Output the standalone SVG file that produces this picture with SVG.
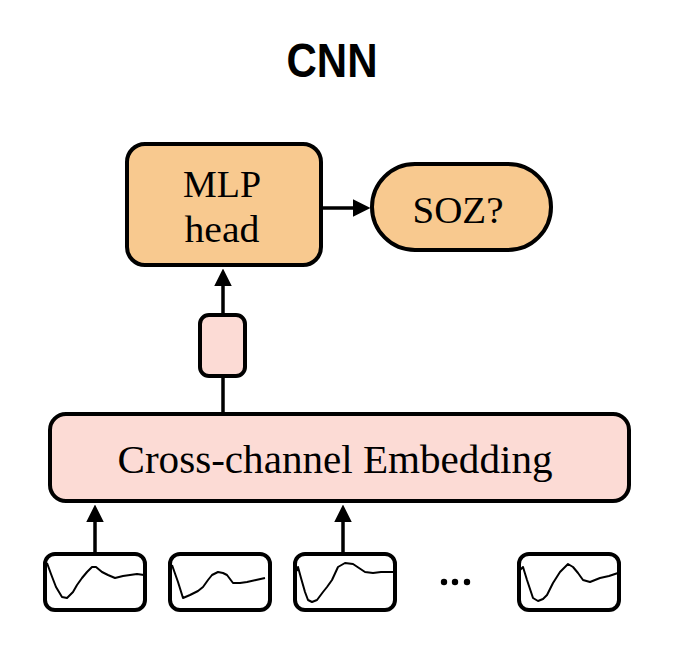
<svg xmlns="http://www.w3.org/2000/svg" width="682" height="662" viewBox="0 0 682 662">
<style>
.box{stroke:#000;stroke-width:4}
.orange{fill:#F8C98F}
.pink{fill:#FCDBD5}
.sig{fill:#fff;stroke:#000;stroke-width:4}
.wave{fill:none;stroke:#000;stroke-width:2;stroke-linejoin:round}
.line{stroke:#000;stroke-width:3.5;fill:none}
</style>
<defs>
<marker id="ah" markerWidth="5" markerHeight="5" refX="0" refY="2.5" orient="auto" markerUnits="strokeWidth">
<path d="M0,0 L5,2.5 L0,5 Z" fill="#000"/>
</marker>
</defs>
<rect width="682" height="662" fill="#fff"/>
<text x="332" y="77" font-family="'Liberation Sans',Arial,sans-serif" font-weight="bold" font-size="49" text-anchor="middle" textLength="91" lengthAdjust="spacingAndGlyphs">CNN</text>

<g id="connectors">
<line class="line" x1="323" y1="208" x2="353" y2="208" marker-end="url(#ah)"/>
<line class="line" x1="223" y1="313" x2="223" y2="286" marker-end="url(#ah)"/>
<line class="line" x1="223" y1="412" x2="223" y2="378"/>
<line class="line" x1="95" y1="552" x2="95" y2="522" marker-end="url(#ah)"/>
<line class="line" x1="343" y1="552" x2="343" y2="522" marker-end="url(#ah)"/>
</g>

<g id="mlp-head">
<rect class="box orange" x="127" y="144" width="194" height="121" rx="18"/>
<text x="222" y="197" font-family="Liberation Serif, Times New Roman, serif" font-size="37" text-anchor="middle" textLength="78" lengthAdjust="spacingAndGlyphs">MLP</text>
<text x="222" y="242" font-family="Liberation Serif, Times New Roman, serif" font-size="37" text-anchor="middle" textLength="75" lengthAdjust="spacingAndGlyphs">head</text>
</g>

<g id="soz">
<rect class="box orange" x="372" y="164" width="179" height="86" rx="43"/>
<text x="458" y="223" font-family="Liberation Serif, Times New Roman, serif" font-size="37" text-anchor="middle" textLength="91" lengthAdjust="spacingAndGlyphs">SOZ?</text>
</g>

<g id="token">
<rect class="box pink" x="200" y="315" width="45" height="61" rx="9"/>
</g>

<g id="embedding">
<rect class="box pink" x="50" y="414" width="579" height="87" rx="16"/>
<text x="335" y="473" font-family="Liberation Serif, Times New Roman, serif" font-size="41" text-anchor="middle" textLength="435" lengthAdjust="spacingAndGlyphs">Cross-channel Embedding</text>
</g>

<g id="signal1">
<rect class="sig" x="45" y="554" width="100" height="56" rx="10"/>
<path class="wave" transform="translate(43,552)" d="M4,11 L8,22 L13,35 L19,45 L24,46 L30,40 L34,33 L39,26 L44,20 L49,15 L53,15 L59,20 L65,23 L72,26 L80,24 L87,23 L94,22 L101,23"/>
</g>
<g id="signal2">
<rect class="sig" x="170" y="554" width="100" height="56" rx="10"/>
<path class="wave" transform="translate(168,552)" d="M4,13 L10,30 L15,46 L22,43 L30,39 L35,35 L40,28 L44,23 L50,20 L55,21 L59,23 L65,31 L72,31 L79,30 L88,28 L97,26"/>
</g>
<g id="signal3">
<rect class="sig" x="295" y="554" width="100" height="56" rx="10"/>
<path class="wave" transform="translate(293,552)" d="M3,20 L5,15 L8,26 L12,40 L15,48 L19,50 L24,48 L30,40 L34,35 L39,28 L45,15 L52,11 L60,12 L66,16 L72,20 L80,21 L88,20 L101,20"/>
</g>
<g id="dots">
<circle cx="444" cy="582" r="3.2" fill="#000"/>
<circle cx="455" cy="582" r="3.2" fill="#000"/>
<circle cx="467" cy="582" r="3.2" fill="#000"/>
</g>
<g id="signal4">
<rect class="sig" x="519" y="554" width="100" height="56" rx="10"/>
<path class="wave" transform="translate(517,552)" d="M3,18 L6,15 L10,28 L16,46 L21,49 L26,47 L30,43 L36,31 L43,20 L51,12 L56,15 L61,21 L66,28 L73,30 L83,26 L92,24 L101,21"/>
</g>
</svg>
